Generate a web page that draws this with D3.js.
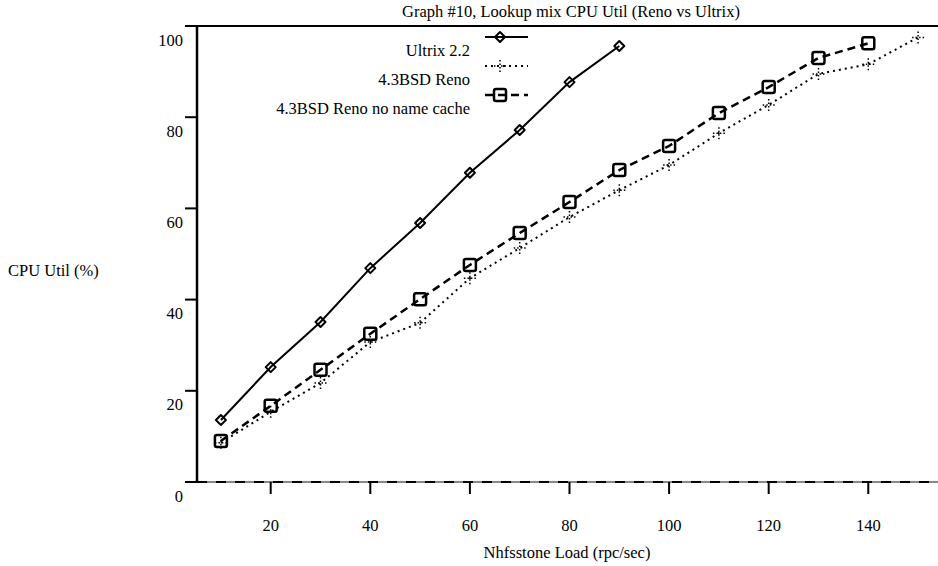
<!DOCTYPE html>
<html>
<head>
<meta charset="utf-8">
<script src="https://cdn.jsdelivr.net/npm/d3@7"></script>
<style>
  body { margin: 0; background: #fff; }
  text { font-family: "Liberation Serif", "Times New Roman", serif; font-size: 16.5px; fill: #000; }
</style>
</head>
<body>
<script>
var title = "Graph #10, Lookup mix CPU Util (Reno vs Ultrix)";
var xTitle = "Nhfsstone Load (rpc/sec)";
var yTitle = "CPU Util (%)";

var xTicks = [20, 40, 60, 80, 100, 120, 140];
var yTicks = [0, 20, 40, 60, 80, 100];

var loads = [10, 20, 30, 40, 50, 60, 70, 80, 90, 100, 110, 120, 130, 140, 150];
var ultrix = [13.6, 25.2, 35.1, 46.9, 56.8, 67.8, 77.2, 87.7, 95.6];
var reno = [8.6, 15.4, 21.7, 30.7, 34.9, 44.7, 51.3, 58.1, 64.0, 69.5, 76.5, 82.7, 89.5, 91.6, 97.5];
var renoNoCache = [9.0, 16.7, 24.6, 32.5, 40.1, 47.6, 54.6, 61.4, 68.4, 73.7, 80.9, 86.6, 93.0, 96.2];

var seriesNames = ["Ultrix 2.2", "4.3BSD Reno", "4.3BSD Reno no name cache"];

var width = 938,
    height = 566;

var x = d3.scaleLinear().domain([5.2, 154]).range([197, 938]);
var y = d3.scaleLinear().domain([0, 100]).range([482, 26]);

var svg = d3.select("body").append("svg")
    .attr("width", width)
    .attr("height", height);

// frame: top line, left axis, dashed bottom
svg.append("line")
    .attr("x1", 185).attr("x2", width)
    .attr("y1", y(100)).attr("y2", y(100))
    .attr("stroke", "#000").attr("stroke-width", 2);

svg.append("line")
    .attr("x1", x.range()[0]).attr("x2", x.range()[0])
    .attr("y1", y(100)).attr("y2", y(0))
    .attr("stroke", "#000").attr("stroke-width", 2.5);

svg.append("line")
    .attr("x1", x.range()[0]).attr("x2", width)
    .attr("y1", y(0)).attr("y2", y(0))
    .attr("stroke", "#888").attr("stroke-width", 2);
svg.append("line")
    .attr("x1", x.range()[0]).attr("x2", width)
    .attr("y1", y(0)).attr("y2", y(0))
    .attr("stroke", "#000").attr("stroke-width", 2)
    .attr("stroke-dasharray", "10,9");

// y ticks + labels
var yt = svg.append("g").selectAll("g")
    .data(yTicks)
  .enter().append("g");
yt.append("line")
    .attr("x1", 185).attr("x2", x.range()[0])
    .attr("y1", function(d) { return y(d); })
    .attr("y2", function(d) { return y(d); })
    .attr("stroke", "#000").attr("stroke-width", 2);
yt.append("text")
    .attr("x", 183)
    .attr("y", function(d) { return y(d) + 14; })
    .attr("text-anchor", "end")
    .attr("dominant-baseline", "central")
    .text(function(d) { return d; });

// x ticks + labels
var xt = svg.append("g").selectAll("g")
    .data(xTicks)
  .enter().append("g");
xt.append("line")
    .attr("x1", function(d) { return x(d); })
    .attr("x2", function(d) { return x(d); })
    .attr("y1", y(0)).attr("y2", y(0) + 12)
    .attr("stroke", "#000").attr("stroke-width", 2);
xt.append("text")
    .attr("x", function(d) { return x(d); })
    .attr("y", 525)
    .attr("text-anchor", "middle")
    .attr("dominant-baseline", "central")
    .text(function(d) { return d; });

// titles
svg.append("text")
    .attr("x", 571).attr("y", 11)
    .attr("text-anchor", "middle")
    .attr("dominant-baseline", "central")
    .text(title);
svg.append("text")
    .attr("x", 567).attr("y", 552)
    .attr("text-anchor", "middle")
    .attr("dominant-baseline", "central")
    .text(xTitle);
svg.append("text")
    .attr("x", 8).attr("y", 270)
    .attr("dominant-baseline", "central")
    .text(yTitle);

// series
var series = [
  { name: seriesNames[0], values: ultrix, dash: null, width: 2, marker: "diamond" },
  { name: seriesNames[1], values: reno, dash: "2,4", width: 2, marker: "dots" },
  { name: seriesNames[2], values: renoNoCache, dash: "8,5", width: 2.5, marker: "square" }
];

var line = d3.line()
    .x(function(d) { return x(d[0]); })
    .y(function(d) { return y(d[1]); });

function drawMarker(g, kind, cx, cy) {
  if (kind === "diamond") {
    g.append("path")
        .attr("d", "M" + cx + "," + (cy - 5) + "L" + (cx + 5) + "," + cy +
                   "L" + cx + "," + (cy + 5) + "L" + (cx - 5) + "," + cy + "Z")
        .attr("fill", "none").attr("stroke", "#000").attr("stroke-width", 2)
        .attr("stroke-linejoin", "round");
  } else if (kind === "square") {
    g.append("rect")
        .attr("x", cx - 6).attr("y", cy - 6)
        .attr("width", 12).attr("height", 12)
        .attr("rx", 2)
        .attr("fill", "none").attr("stroke", "#000").attr("stroke-width", 2.5);
  } else {
    g.append("path")
        .attr("d", "M" + (cx - 6) + "," + cy + "H" + (cx + 6) +
                   "M" + cx + "," + (cy - 6) + "V" + (cy + 6))
        .attr("fill", "none").attr("stroke", "#000").attr("stroke-width", 1.5)
        .attr("stroke-dasharray", "1.5,2");
  }
}

series.forEach(function(s) {
  var pts = s.values.map(function(v, i) { return [loads[i], v]; });
  var g = svg.append("g");
  g.append("path")
      .datum(pts)
      .attr("d", line)
      .attr("fill", "none")
      .attr("stroke", "#000")
      .attr("stroke-width", s.width)
      .attr("stroke-dasharray", s.dash);
  pts.forEach(function(p) { drawMarker(g, s.marker, x(p[0]), y(p[1])); });
});

// legend
var legend = svg.append("g");
series.forEach(function(s, i) {
  var ly = 37 + i * 29;
  legend.append("text")
      .attr("x", 470).attr("y", ly + 13)
      .attr("text-anchor", "end")
      .attr("dominant-baseline", "central")
      .text(s.name);
  legend.append("line")
      .attr("x1", 485).attr("x2", 528)
      .attr("y1", ly).attr("y2", ly)
      .attr("stroke", "#000")
      .attr("stroke-width", s.width)
      .attr("stroke-dasharray", s.dash);
  drawMarker(legend, s.marker, 500, ly);
});
</script>
</body>
</html>
